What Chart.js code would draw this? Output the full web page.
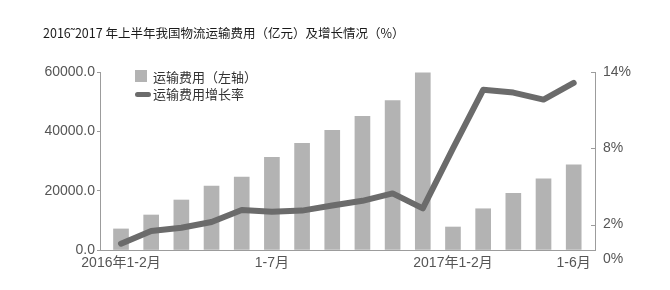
<!DOCTYPE html>
<html><head><meta charset="utf-8">
<script src="https://cdn.jsdelivr.net/npm/chart.js@4.4.0/dist/chart.umd.min.js"></script>
<style>
body{margin:0;background:#fff;}
#wrap{position:relative;width:670px;height:290px;}
#title{position:absolute;left:43px;top:25px;font-size:12.5px;color:#1a1a1a;font-family:'Noto Sans CJK SC',sans-serif;white-space:nowrap;line-height:16px;}
.lgt{position:absolute;left:153px;font-size:13px;color:#333;font-family:'Noto Sans CJK SC',sans-serif;line-height:16px;white-space:nowrap;}
#lgBox{position:absolute;left:135px;top:70px;width:12px;height:12px;background:#b3b3b3;}
#lgLine{position:absolute;left:135px;top:92px;width:16px;height:5px;border-radius:3px;background:#6b6b6b;}
canvas{position:absolute;left:0;top:0;}
</style></head>
<body>
<div id="wrap">
<canvas id="c" width="670" height="290"></canvas>
<div id="title">2016˜2017 年上半年我国物流运输费用（亿元）及增长情况（%）</div>
<div id="lgBox"></div><div class="lgt" id="lgT1" style="top:69px"></div>
<div id="lgLine"></div><div class="lgt" id="lgT2" style="top:86px"></div>
</div>
<script>
const categories = ['2016年1-2月','1-3月','1-4月','1-5月','1-6月','1-7月','1-8月','1-9月','1-10月','1-11月','1-12月','2017年1-2月','1-3月','1-4月','1-5月','1-6月'];
const shownTickIndex = [0, 5, 11, 15];
const costValues = [7100, 11800, 16850, 21550, 24600, 31200, 35950, 40300, 45050, 50400, 59700, 7750, 13900, 19100, 24000, 28750];
const growthValues = [0.5, 1.5, 1.75, 2.2, 3.15, 3.0, 3.1, 3.5, 3.87, 4.45, 3.27, 8.0, 12.6, 12.38, 11.83, 13.14];
const leftTicks = [0, 20000, 40000, 60000];
const rightTicks = [0, 2, 8, 14];
const seriesNames = ['运输费用（左轴）', '运输费用增长率'];

document.getElementById('lgT1').textContent = seriesNames[0];
document.getElementById('lgT2').textContent = seriesNames[1];

const FONT = "'Liberation Sans','Noto Sans CJK SC',sans-serif";
const AXIS = '#9c9c9c';

const rightDecor = {
  id: 'rightDecor',
  afterDraw(chart) {
    const s = chart.scales.y1, ctx = chart.ctx;
    ctx.save();
    ctx.strokeStyle = AXIS; ctx.lineWidth = 1;
    s.ticks.forEach(t => {
      if (t.value === 0) return;
      const y = Math.round(s.getPixelForValue(t.value)) + 0.5;
      ctx.beginPath(); ctx.moveTo(s.left - 4, y); ctx.lineTo(s.left, y); ctx.stroke();
    });
    ctx.fillStyle = '#555';
    ctx.font = '14px ' + FONT;
    ctx.textBaseline = 'middle';
    ctx.textAlign = 'left';
    ctx.fillText('0%', s.left + 8, s.getPixelForValue(0) + 9);
    ctx.restore();
  }
};

new Chart(document.getElementById('c'), {
  type: 'bar',
  data: {
    datasets: [
      {
        type: 'line', label: seriesNames[1], yAxisID: 'y1', order: 0,
        data: growthValues.map((v, i) => ({x: i, y: v})),
        borderColor: '#6b6b6b', borderWidth: 6, pointRadius: 0, tension: 0,
        borderCapStyle: 'round', borderJoinStyle: 'round', fill: false
      },
      {
        type: 'bar', label: seriesNames[0], yAxisID: 'y', order: 1,
        data: costValues.map((v, i) => ({x: i, y: v})),
        backgroundColor: '#b3b3b3', barThickness: 15
      }
    ]
  },
  options: {
    responsive: false, animation: false,
    layout: {padding: {top: 72, bottom: 0, left: 0, right: 0}},
    plugins: {legend: {display: false}, tooltip: {enabled: false}, title: {display: false}},
    scales: {
      x: {
        type: 'linear', min: -0.696, max: 15.706, offset: false,
        grid: {display: false, drawTicks: false},
        border: {display: true, color: AXIS, width: 1},
        afterBuildTicks: s => { s.ticks = shownTickIndex.map(v => ({value: v})); },
        afterFit: s => { s.height = 40; },
        ticks: {
          autoSkip: false, maxRotation: 0, padding: 5, color: '#555',
          font: {size: 14, family: FONT},
          callback: v => categories[v] || ''
        }
      },
      y: {
        position: 'left', min: 0, max: 60000,
        afterBuildTicks: s => { s.ticks = leftTicks.map(v => ({value: v})); },
        afterFit: s => { s.width = 100; },
        grid: {drawOnChartArea: false, drawTicks: true, tickLength: 3, color: AXIS},
        border: {display: true, color: AXIS, width: 1},
        ticks: {padding: 2, color: '#555', font: {size: 14, family: FONT},
          callback: v => Number(v).toFixed(1)}
      },
      y1: {
        position: 'right', min: 0, max: 14,
        afterBuildTicks: s => { s.ticks = rightTicks.map(v => ({value: v})); },
        afterFit: s => { s.width = 75; },
        grid: {drawOnChartArea: false, drawTicks: false},
        border: {display: true, color: AXIS, width: 1},
        ticks: {padding: 8, color: '#555', font: {size: 14, family: FONT},
          callback: v => v === 0 ? '' : v + '%'}
      }
    }
  },
  plugins: [rightDecor]
});
</script>
</body></html>
